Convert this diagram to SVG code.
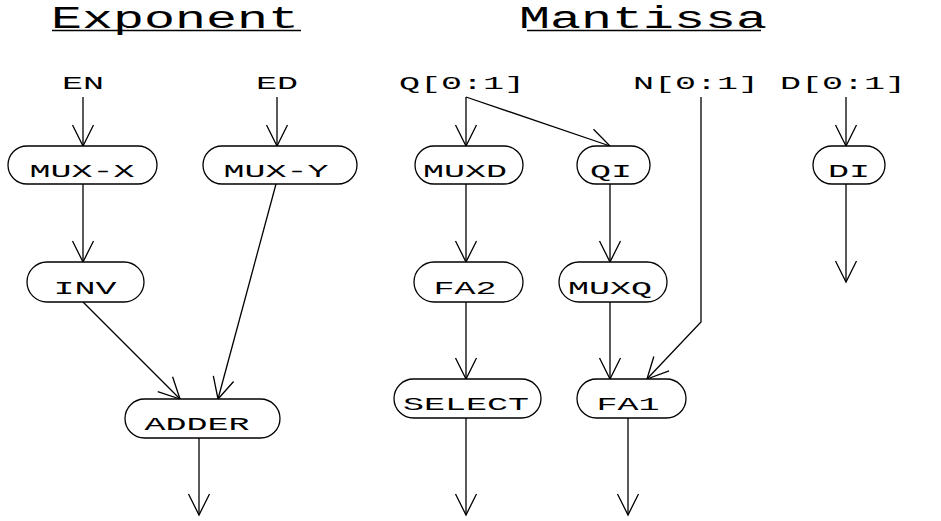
<svg xmlns="http://www.w3.org/2000/svg" width="941" height="521" viewBox="0 0 941 521">
<style>
.n rect{fill:#fff;stroke:#000;stroke-width:1.3}
text{font-family:"Liberation Mono","DejaVu Sans Mono",monospace;fill:#000}
.lb{font-size:18px;text-anchor:middle}
.tt{font-size:31px;text-anchor:middle}
.c path,.c line{fill:none;stroke:#000;stroke-width:1.3}
</style>
<defs>
<marker id="ah" markerUnits="userSpaceOnUse" markerWidth="26" markerHeight="26" viewBox="-23 -13 26 26" refX="0" refY="0" orient="auto">
<path d="M-21,-10.5 L0,0 L-21,10.5" fill="none" stroke="#000" stroke-width="1.3"/>
</marker>
</defs>
<rect width="941" height="521" fill="#fff"/>
<g id="titles">
<text class="tt" x="175" y="28" textLength="248" lengthAdjust="spacingAndGlyphs">Exponent</text>
<line x1="52" y1="30.5" x2="301" y2="30.5" stroke="#000" stroke-width="1.3"/>
<text class="tt" x="643" y="28" textLength="248" lengthAdjust="spacingAndGlyphs">Mantissa</text>
<line x1="527" y1="30.5" x2="761" y2="30.5" stroke="#000" stroke-width="1.3"/>
</g>
<g id="inputs">
<text class="lb" x="83" y="89" textLength="42" lengthAdjust="spacingAndGlyphs">EN</text>
<text class="lb" x="277" y="89" textLength="42" lengthAdjust="spacingAndGlyphs">ED</text>
<text class="lb" x="462" y="89" textLength="126" lengthAdjust="spacingAndGlyphs">Q[0:1]</text>
<text class="lb" x="696" y="89" textLength="126" lengthAdjust="spacingAndGlyphs">N[0:1]</text>
<text class="lb" x="843" y="89" textLength="126" lengthAdjust="spacingAndGlyphs">D[0:1]</text>
</g>
<g class="c" id="connectors">
<path d="M83,97 L83,146" marker-end="url(#ah)"/>
<path d="M277,97 L277,146" marker-end="url(#ah)"/>
<path d="M83,184 L83,262" marker-end="url(#ah)"/>
<path d="M83,302 L180,399" marker-end="url(#ah)"/>
<path d="M276,184 L218,399" marker-end="url(#ah)"/>
<path d="M199,438 L199,515" marker-end="url(#ah)"/>
<path d="M466,97 L466,146" marker-end="url(#ah)"/>
<path d="M466,97 L610,146" marker-end="url(#ah)"/>
<path d="M466,184 L466,262" marker-end="url(#ah)"/>
<path d="M466,302 L466,379" marker-end="url(#ah)"/>
<path d="M466,418 L466,515" marker-end="url(#ah)"/>
<path d="M610,184 L610,262" marker-end="url(#ah)"/>
<path d="M610,302 L610,379" marker-end="url(#ah)"/>
<path d="M701,97 L701,322 L647,379" marker-end="url(#ah)"/>
<path d="M628,418 L628,515" marker-end="url(#ah)"/>
<path d="M846,97 L846,146" marker-end="url(#ah)"/>
<path d="M846,184 L846,282" marker-end="url(#ah)"/>
</g>
<g class="n" id="MUX-X"><rect x="8" y="146" width="149" height="38" rx="19"/><text class="lb" x="82" y="177" textLength="105" lengthAdjust="spacingAndGlyphs">MUX-X</text></g>
<g class="n" id="MUX-Y"><rect x="203" y="146" width="154" height="38" rx="19"/><text class="lb" x="276" y="177" textLength="105" lengthAdjust="spacingAndGlyphs">MUX-Y</text></g>
<g class="n" id="MUXD"><rect x="415" y="146" width="108" height="38" rx="19"/><text class="lb" x="465" y="177" textLength="84" lengthAdjust="spacingAndGlyphs">MUXD</text></g>
<g class="n" id="QI"><rect x="577" y="146" width="73" height="38" rx="19"/><text class="lb" x="611" y="177" textLength="42" lengthAdjust="spacingAndGlyphs">QI</text></g>
<g class="n" id="DI"><rect x="813" y="146" width="72" height="38" rx="19"/><text class="lb" x="849" y="177" textLength="42" lengthAdjust="spacingAndGlyphs">DI</text></g>
<g class="n" id="INV"><rect x="27" y="262" width="117" height="40" rx="20"/><text class="lb" x="85" y="294" textLength="63" lengthAdjust="spacingAndGlyphs">INV</text></g>
<g class="n" id="FA2"><rect x="414" y="262" width="109" height="40" rx="20"/><text class="lb" x="465" y="294" textLength="63" lengthAdjust="spacingAndGlyphs">FA2</text></g>
<g class="n" id="MUXQ"><rect x="559" y="262" width="108" height="40" rx="20"/><text class="lb" x="610" y="294" textLength="84" lengthAdjust="spacingAndGlyphs">MUXQ</text></g>
<g class="n" id="ADDER"><rect x="125" y="399" width="155" height="39" rx="19.5"/><text class="lb" x="197" y="430" textLength="105" lengthAdjust="spacingAndGlyphs">ADDER</text></g>
<g class="n" id="SELECT"><rect x="394" y="379" width="147" height="39" rx="19.5"/><text class="lb" x="466" y="410" textLength="126" lengthAdjust="spacingAndGlyphs">SELECT</text></g>
<g class="n" id="FA1"><rect x="577" y="379" width="109" height="39" rx="19.5"/><text class="lb" x="628" y="410" textLength="63" lengthAdjust="spacingAndGlyphs">FA1</text></g>
</svg>
